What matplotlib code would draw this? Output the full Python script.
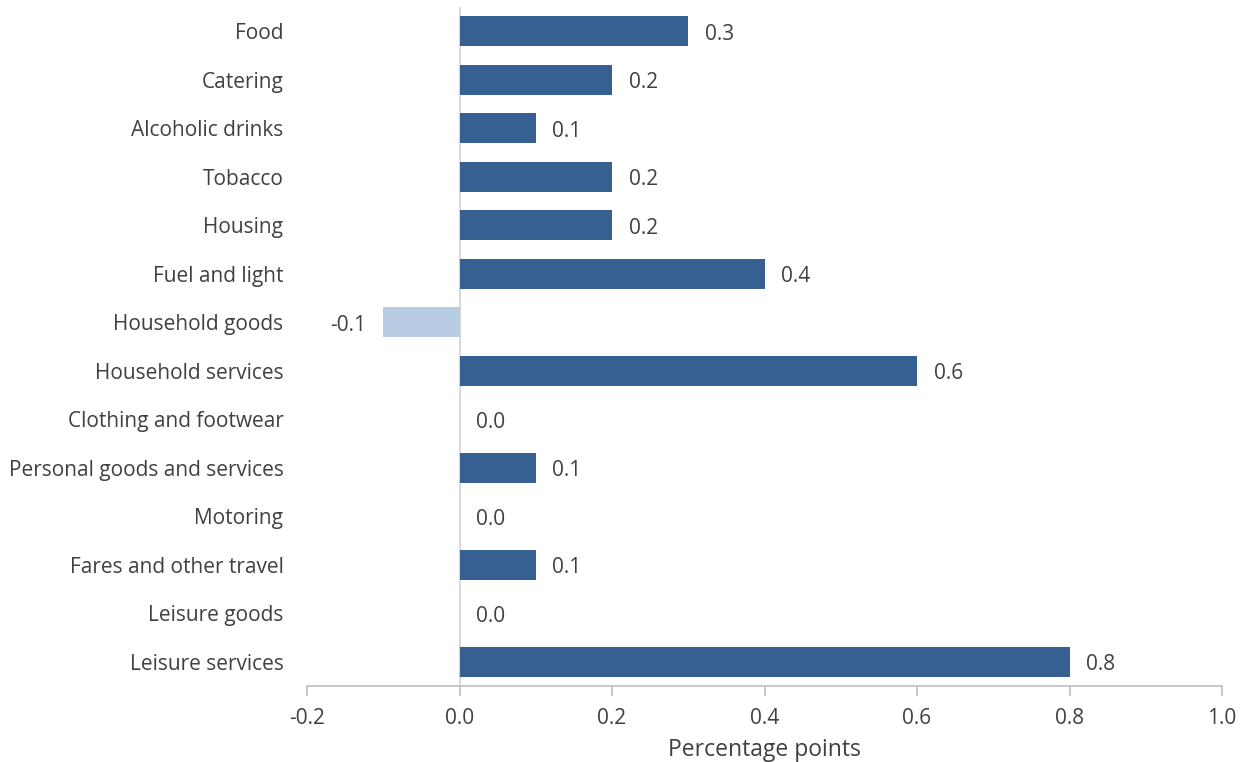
import matplotlib
matplotlib.use("Agg")
from matplotlib import pyplot as plt
import numpy as np

plt.rcParams['font.family'] = ['Open Sans', 'DejaVu Sans']

categories = ['Food', 'Catering', 'Alcoholic drinks', 'Tobacco', 'Housing',
              'Fuel and light', 'Household goods', 'Household services',
              'Clothing and footwear', 'Personal goods and services',
              'Motoring', 'Fares and other travel', 'Leisure goods',
              'Leisure services']
values = [0.3, 0.2, 0.1, 0.2, 0.2, 0.4, -0.1, 0.6, 0.0, 0.1, 0.0, 0.1, 0.0, 0.8]
xticks = [-0.2, 0.0, 0.2, 0.4, 0.6, 0.8, 1.0]

dark = '#366092'
light = '#B8CCE4'
text_col = '#404040'
axis_col = '#BFBFBF'
fs = 15

fig = plt.figure(figsize=(12.42, 7.62), dpi=100)
ax = fig.add_axes([307 / 1242, 1 - 686 / 762, (1222 - 307) / 1242, (686 - 7) / 762])

y = np.arange(len(categories))
colors = [light if v < 0 else dark for v in values]
ax.barh(y, values, height=0.62, color=colors, linewidth=0, zorder=2)

# value labels beside the bar ends
for yi, v in zip(y, values):
    if v < 0:
        ax.annotate(f'{v:.1f}', (v, yi), xytext=(-12, -2), textcoords='offset points',
                    ha='right', va='center', fontsize=fs, color=text_col)
    else:
        ax.annotate(f'{v:.1f}', (v, yi), xytext=(12, -2), textcoords='offset points',
                    ha='left', va='center', fontsize=fs, color=text_col)

ax.axvline(0, color='#D9D9D9', linewidth=1.5, zorder=1)

ax.set_xlim(-0.2, 1.0)
ax.set_ylim(len(categories) - 0.5, -0.5)
ax.set_xticks(xticks)
ax.set_xticklabels([f'{t:.1f}' for t in xticks])
ax.set_yticks(y)
ax.set_yticklabels(categories)

for s in ['top', 'right', 'left']:
    ax.spines[s].set_visible(False)
ax.spines['bottom'].set_color(axis_col)
ax.spines['bottom'].set_linewidth(1.2)
ax.tick_params(axis='x', colors=axis_col, length=7, width=1.2, labelcolor=text_col,
               labelsize=fs, pad=9)
ax.tick_params(axis='y', length=0, labelcolor=text_col, labelsize=fs, pad=17)

ax.set_xlabel('Percentage points', fontsize=16.5, color=text_col, labelpad=6)

fig.savefig('out.png', dpi=100)
